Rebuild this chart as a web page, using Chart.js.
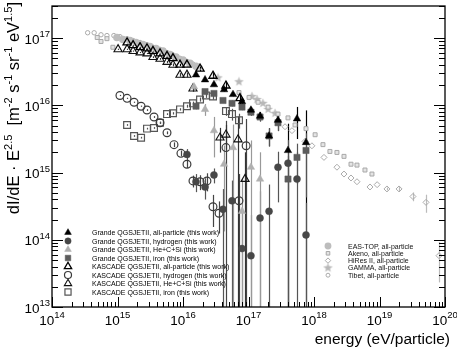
<!DOCTYPE html>
<html><head><meta charset="utf-8">
<script src="https://cdn.jsdelivr.net/npm/chart.js@4"></script>
<style>html,body{margin:0;padding:0;background:#fff}canvas{display:block}</style>
</head><body><canvas id="c" width="457" height="347"></canvas>
<script>
// ---------- data (energy in eV, flux = dI/dE * E^2.5) ----------
const grandeAllE = [1.58e16,2.17e16,2.97e16,4.23e16,5.80e16,7.96e16,1.09e17,1.50e17,2.06e17,2.82e17,4.01e17,5.50e17,7.55e17];
const grandeAllF = [2.84e16,2.40e16,2.03e16,1.71e16,1.45e16,1.14e16,8.5e15,6.9e15,3.5e15,6.0e15,2.13e15,6.3e15,2.8e15];
const grandeAllErr = [0.05,0.05,0.05,0.06,0.06,0.07,0.1,0.15,0.3,0.3,1.5,0.5,2.0];

const grandeHE = [1.15e16,1.58e16,2.17e16,2.97e16,4.08e16,5.60e16,7.96e16,1.09e17,1.50e17,2.06e17,2.82e17,4.01e17,5.50e17,7.55e17];
const grandeHF = [1.86e15,7.3e14,6.1e14,9.2e14,2.84e14,3.8e14,7.4e13,5.8e13,2.10e14,2.65e14,1.20e15,1.38e15,8.0e14,1.18e14];
const grandeHErr = [0.2,0.3,0.35,0.25,1.0,1.0,3.0,3.0,1.5,1.5,0.7,1.2,1.5,2.0];

const grandeMedE = [1.47e16,2.17e16,2.97e16,4.23e16,5.80e16,7.96e16,1.09e17,1.50e17];
const grandeMedF = [1.89e16,8.7e15,4.2e15,1.33e15,2.35e15,2.65e14,1.20e15,8.0e14];
const grandeMedErr = [0.1,0.2,0.6,0.9,1.2,2.0,1.5,1.5];

const grandeFeE = [1.58e16,2.17e16,2.97e16,4.08e16,5.60e16,7.96e16,1.09e17,1.50e17,2.06e17,2.82e17,4.01e17,5.50e17,7.55e17];
const grandeFeF = [9.7e15,1.60e16,1.50e16,1.18e16,1.07e16,9.4e15,7.9e15,6.7e15,3.5e15,5.5e15,8.0e14,1.68e15,2.13e15];
const grandeFeErr = [0.1,0.08,0.08,0.08,0.1,0.1,0.12,0.15,0.3,0.25,1.2,0.6,0.8];

const kascAllE = [1.40e15,1.73e15,2.21e15,2.82e15,3.48e15,4.46e15,5.70e15,7.03e15,9.0e15,1.15e16,1.82e16,2.87e16,4.53e16,7.41e16];
const kascAllF = [8.6e16,7.8e16,7.3e16,7.0e16,6.4e16,5.9e16,5.4e16,5.0e16,4.0e16,4.0e16,3.5e16,2.74e16,1.96e16,1.27e16];
const kascAllErr = [0.02,0.02,0.02,0.02,0.02,0.02,0.03,0.03,0.04,0.05,0.08,0.1,0.15,0.2];

const kascHE = [1.09e15,1.40e15,1.79e15,2.29e15,2.82e15,3.61e15,4.46e15,5.70e15,7.29e15,9.3e15,1.15e16,1.42e16,1.82e16,2.32e16,2.87e16,3.55e16,4.53e16,7.16e16,9.2e16];
const kascHF = [1.40e16,1.27e16,1.11e16,9.7e15,8.5e15,6.7e15,5.5e15,3.9e15,2.6e15,1.93e15,1.33e15,7.5e14,7.3e14,7.5e14,3.1e14,2.48e14,2.35e15,3.8e14,2.5e15];
const kascHErr = [0.02,0.02,0.02,0.02,0.03,0.03,0.04,0.05,0.08,0.1,0.12,0.2,0.25,0.3,0.5,0.5,1.5,1.5,1.5];

const kascMedE = [1.02e15,1.40e15,1.73e15,2.21e15,2.82e15,3.48e15,4.46e15,5.70e15,7.03e15,9.0e15,1.15e16,1.42e16,3.67e16,4.53e16,6.92e16,8.85e16];
const kascMedF = [6.8e16,6.8e16,6.4e16,6.1e16,5.9e16,5.2e16,4.9e16,4.4e16,4.0e16,2.84e16,2.84e16,1.77e16,3.3e15,3.65e15,3.1e15,8.0e14];
const kascMedErr = [0.02,0.02,0.02,0.02,0.02,0.03,0.03,0.04,0.05,0.06,0.08,0.1,0.4,0.4,1.2,1.5];

const kascFeE = [1.40e15,1.79e15,2.29e15,2.82e15,3.61e15,4.46e15,5.70e15,7.03e15,9.0e15,1.15e16,1.42e16,1.82e16,2.24e16,2.87e16,4.53e16,5.60e16,7.16e16];
const kascFeF = [5.1e15,3.5e15,3.3e15,4.5e15,4.6e15,5.5e15,7.4e15,7.6e15,8.7e15,9.7e15,1.07e16,1.22e16,1.40e16,1.35e16,8.2e15,7.4e15,6.0e15];
const kascFeErr = [0.03,0.03,0.03,0.03,0.03,0.03,0.03,0.04,0.04,0.05,0.06,0.07,0.08,0.1,0.15,0.2,0.25];

const easTopE = [9.8e14,1.21e15,1.55e15,1.92e15,2.45e15,3.13e15,3.87e15,4.95e15,6.34e15,7.82e15,1.0e16,1.28e16,1.58e16];
const easTopF = [1.02e17,9.5e16,9.2e16,8.6e16,8.0e16,7.5e16,7.0e16,6.4e16,5.7e16,5.2e16,4.7e16,4.2e16,3.8e16];

const akenoE = [4.9e14,5.6e14,6.9e14,8.5e14,7.16e16,1.02e17,1.40e17,1.99e17,2.82e17,4.01e17,5.13e17,7.55e17,1.04e18,1.37e18,1.75e18,2.24e18,2.87e18,3.67e18,4.53e18,6.0e18,7.67e18];
const akenoF = [1.02e17,8.9e16,9.8e16,7.3e16,1.55e16,1.31e16,1.11e16,9.4e15,7.4e15,6.5e15,5.1e15,4.5e15,3.65e15,2.6e15,2.06e15,1.99e15,1.74e15,1.33e15,1.29e15,1.09e15,9.5e14];

const hiresE = [3.61e17,4.61e17,7.29e17,9.3e17,1.42e18,2.24e18,2.87e18,3.67e18,4.53e18,7.16e18,9.2e18,1.30e19,1.99e19,3.24e19,5.13e19,8.1e19];
const hiresF = [4.8e15,4.2e15,2.9e15,2.5e15,1.68e15,1.20e15,9.5e14,8.3e14,7.3e14,6.1e14,6.6e14,5.7e14,5.7e14,4.4e14,3.6e14,5.8e13];
const hiresErr = [0,0,0,0,0,0,0,0,0,0,0,0.05,0.08,0.15,0.3,0.6];

const gammaE = [3.42e16,7.16e16,1.13e17,1.35e17,1.66e17,1.99e17,2.54e17];
const gammaF = [2.56e16,2.24e16,1.35e16,1.22e16,1.07e16,8.7e15,7.6e15];

const tibetE = [3.5e14,4.4e14,5.6e14,6.9e14,8.8e14,1.09e15,1.40e15,1.73e15,2.21e15,2.82e15,3.48e15,4.46e15,5.70e15,7.03e15,9.0e15,1.15e16,1.42e16,1.82e16];
const tibetF = [1.20e17,1.20e17,1.12e17,1.09e17,1.09e17,1.05e17,9.8e16,9.2e16,8.6e16,8.0e16,7.3e16,6.8e16,6.1e16,5.6e16,5.0e16,4.5e16,4.1e16,3.7e16];

const xTickExp = [14,15,16,17,18,19,20];
const yTickExp = [13,14,15,16,17];

const legendLeft = ['Grande QGSJETII, all-particle (this work)','Grande QGSJETII, hydrogen (this work)','Grande QGSJETII, He+C+Si (this work)','Grande QGSJETII, iron (this work)','KASCADE QGSJETII, all-particle (this work)','KASCADE QGSJETII, hydrogen (this work)','KASCADE QGSJETII, He+C+Si (this work)','KASCADE QGSJETII, iron (this work)'];
const legendRight = ['EAS-TOP, all-particle','Akeno, all-particle','HiRes II, all-particle','GAMMA, all-particle','Tibet, all-particle'];

// ---------- helpers ----------
const FONT = '"Liberation Sans", Arial, Helvetica, sans-serif';
const pts = (xs, ys) => xs.map((x, i) => ({x, y: ys[i]}));

const starImg = (() => {
  const c = document.createElement('canvas'); c.width = 11; c.height = 11;
  const g = c.getContext('2d'); g.fillStyle = '#b8b8b8'; g.beginPath();
  for (let i = 0; i < 10; i++) {
    const r = i % 2 ? 2.1 : 5, a = -Math.PI / 2 + i * Math.PI / 5;
    g.lineTo(5.5 + r * Math.cos(a), 5.5 + r * Math.sin(a));
  }
  g.closePath(); g.fill(); return c;
})();

function ds(label, xs, ys, errs, style) {
  return Object.assign({label, data: pts(xs, ys), errs, showLine: false, pointBorderWidth: 1.2}, style);
}
const none = 'rgba(0,0,0,0)';
const datasets = [
  ds(legendLeft[0], grandeAllE, grandeAllF, grandeAllErr, {pointStyle:'triangle', pointRadius:4.3, backgroundColor:'#000', borderColor:'#000', pointBorderWidth:0.5, errColor:'#000'}),
  ds(legendLeft[1], grandeHE, grandeHF, grandeHErr, {pointStyle:'circle', pointRadius:3.5, backgroundColor:'#474747', borderColor:'#474747', pointBorderWidth:0.5, errColor:'#555'}),
  ds(legendLeft[2], grandeMedE, grandeMedF, grandeMedErr, {pointStyle:'triangle', pointRadius:4.3, backgroundColor:'#b0b0b0', borderColor:'#b0b0b0', pointBorderWidth:0.5, errColor:'#999'}),
  ds(legendLeft[3], grandeFeE, grandeFeF, grandeFeErr, {pointStyle:'rect', pointRadius:4.4, backgroundColor:'#5c5c5c', borderColor:'#5c5c5c', pointBorderWidth:0.5, errColor:'#555'}),
  ds(legendLeft[4], kascAllE, kascAllF, kascAllErr, {pointStyle:'triangle', pointRadius:4.7, backgroundColor:none, borderColor:'#000', pointBorderWidth:1.3, errColor:'#000'}),
  ds(legendLeft[5], kascHE, kascHF, kascHErr, {pointStyle:'circle', pointRadius:3.9, backgroundColor:none, borderColor:'#3a3a3a', pointBorderWidth:1.2, errColor:'#444'}),
  ds(legendLeft[6], kascMedE, kascMedF, kascMedErr, {pointStyle:'triangle', pointRadius:4.7, backgroundColor:none, borderColor:'#111', pointBorderWidth:1.1, errColor:'#333'}),
  ds(legendLeft[7], kascFeE, kascFeF, kascFeErr, {pointStyle:'rect', pointRadius:4.8, backgroundColor:none, borderColor:'#555', pointBorderWidth:1.2, errColor:'#555'}),
  ds(legendRight[0], easTopE, easTopF, null, {pointStyle:'circle', pointRadius:3.8, backgroundColor:'#bdbdbd', borderColor:'#bdbdbd', pointBorderWidth:0}),
  ds(legendRight[1], akenoE, akenoF, null, {pointStyle:'rect', pointRadius:2.8, backgroundColor:'#e4e4e4', borderColor:'#a8a8a8', pointBorderWidth:1}),
  ds(legendRight[2], hiresE, hiresF, hiresErr, {pointStyle:'rectRot', pointRadius:3, backgroundColor:none, borderColor:'#aaa', pointBorderWidth:1, errColor:'#bbb'}),
  ds(legendRight[3], gammaE, gammaF, null, {pointStyle:starImg, pointRadius:4, backgroundColor:'#b8b8b8', borderColor:'#b8b8b8'}),
  ds(legendRight[4], tibetE, tibetF, null, {pointStyle:'circle', pointRadius:2.2, backgroundColor:none, borderColor:'#aaa', pointBorderWidth:1}),
];

// ---------- plugins ----------
const errBars = {
  id: 'errBars',
  beforeDatasetsDraw(chart) {
    const {ctx, chartArea: a, scales: {x, y}} = chart;
    ctx.save();
    ctx.beginPath(); ctx.rect(a.left, a.top, a.right - a.left, a.bottom - a.top); ctx.clip();
    chart.data.datasets.forEach(d => {
      if (!d.errs) return;
      ctx.strokeStyle = d.errColor || '#000'; ctx.lineWidth = 1.2;
      d.data.forEach((p, i) => {
        const e = d.errs[i]; if (!e) return;
        const px = Math.round(x.getPixelForValue(p.x)) + 0.5;
        const hi = y.getPixelForValue(p.y * (1 + e));
        const lo = p.y * (1 - e) > 0 ? y.getPixelForValue(p.y * (1 - e)) : a.bottom;
        ctx.beginPath(); ctx.moveTo(px, hi); ctx.lineTo(px, lo); ctx.stroke();
      });
    });
    ctx.restore();
  }
};

function supText(ctx, parts, x, y, big, small, rise) {
  let cx = x;
  parts.forEach(([t, s]) => {
    ctx.font = (s ? small : big) + 'px ' + FONT;
    ctx.fillText(t, cx, s ? y - rise : y);
    cx += ctx.measureText(t).width;
  });
  return cx - x;
}
function supWidth(ctx, parts, big, small) {
  let w = 0;
  parts.forEach(([t, s]) => { ctx.font = (s ? small : big) + 'px ' + FONT; w += ctx.measureText(t).width; });
  return w;
}

const axes = {
  id: 'axesDraw',
  afterDraw(chart) {
    const {ctx, chartArea: a, scales: {x, y}} = chart;
    ctx.save();
    ctx.strokeStyle = '#000'; ctx.fillStyle = '#000';
    ctx.lineWidth = 1;
    const yt = [];
    for (let k = yTickExp[0]; k <= yTickExp[yTickExp.length - 1]; k++)
      for (let m = 1; m <= 9; m++) { const v = m * Math.pow(10, k); if (v >= 1e13 && v <= 3.01e17) yt.push([v, m === 1]); }
    yt.forEach(([v, major]) => {
      const py = Math.round(y.getPixelForValue(v)) + 0.5; const L = major ? 11 : 6;
      ctx.beginPath(); ctx.moveTo(a.left, py); ctx.lineTo(a.left + L, py);
      ctx.moveTo(a.right, py); ctx.lineTo(a.right - L, py); ctx.stroke();
    });
    const xt = [];
    for (let k = xTickExp[0]; k <= xTickExp[xTickExp.length - 1]; k++)
      for (let m = 1; m <= 9; m++) { const v = m * Math.pow(10, k); if (v <= 1.0001e20) xt.push([v, m === 1]); }
    xt.forEach(([v, major]) => {
      const px = Math.round(x.getPixelForValue(v)) + 0.5; const L = major ? 10 : 5;
      ctx.beginPath(); ctx.moveTo(px, a.bottom); ctx.lineTo(px, a.bottom - L); ctx.stroke();
    });
    ctx.lineWidth = 1.3;
    ctx.strokeRect(a.left, a.top, a.right - a.left, a.bottom - a.top);
    ctx.textBaseline = 'alphabetic';
    xTickExp.forEach(e => {
      const parts = [['10', false], [String(e), true]];
      const w = supWidth(ctx, parts, 13.5, 9.5);
      const px = x.getPixelForValue(Math.pow(10, e));
      supText(ctx, parts, px - w / 2, 325, 13.5, 9.5, 7);
    });
    yTickExp.forEach(e => {
      const parts = [['10', false], [String(e), true]];
      const w = supWidth(ctx, parts, 13.5, 9.5);
      const py = y.getPixelForValue(Math.pow(10, e));
      supText(ctx, parts, 50 - w, py + 5.5, 13.5, 9.5, 6.5);
    });
    ctx.font = '15.5px ' + FONT; ctx.textAlign = 'right';
    ctx.fillText('energy (eV/particle)', 450, 344);
    ctx.textAlign = 'left';
    const yParts = [['dI/dE \u00b7 E', false], ['2.5', true], ['  [m', false], ['-2', true], [' s', false], ['-1', true], [' sr', false], ['-1', true], [' eV', false], ['1.5', true], [']', false]];
    const yw = supWidth(ctx, yParts, 16.5, 11);
    ctx.save(); ctx.translate(18.5, 2); ctx.rotate(-Math.PI / 2);
    supText(ctx, yParts, -yw, 0, 16.5, 11, 6.5);
    ctx.restore();

    const drawSym = (d, cx, cy) => {
      ctx.save();
      ctx.fillStyle = d.backgroundColor; ctx.strokeStyle = d.borderColor; ctx.lineWidth = d.pointBorderWidth;
      Chart.helpers.drawPoint(ctx, {pointStyle: d.pointStyle, radius: d.pointRadius * 0.9, rotation: 0, borderWidth: d.pointBorderWidth}, cx, cy);
      ctx.restore();
    };
    for (let i = 0; i < 8; i++) {
      const cy = 232.5 + 8.5 * i;
      drawSym(datasets[i], 68, cy);
      ctx.fillStyle = '#000'; ctx.font = '7px ' + FONT;
      ctx.fillText(datasets[i].label, 92, cy + 2.5);
    }
    for (let i = 0; i < 5; i++) {
      const cy = 246 + 7.3 * i;
      drawSym(datasets[8 + i], 328, cy);
      ctx.fillStyle = '#111'; ctx.font = '7px ' + FONT;
      ctx.fillText(datasets[8 + i].label, 348, cy + 2.5);
    }
    ctx.restore();
  }
};

new Chart(document.getElementById('c'), {
  type: 'scatter',
  data: {datasets},
  options: {
    responsive: false, animation: false, devicePixelRatio: 1,
    layout: {padding: {left: 52, right: 12, top: 1, bottom: 40}},
    plugins: {legend: {display: false}, tooltip: {enabled: false}},
    scales: {
      x: {type: 'logarithmic', min: 1e14, max: 1e20, display: false},
      y: {type: 'logarithmic', min: 1e13, max: 3e17, display: false}
    }
  },
  plugins: [errBars, axes]
});
</script></body></html>
